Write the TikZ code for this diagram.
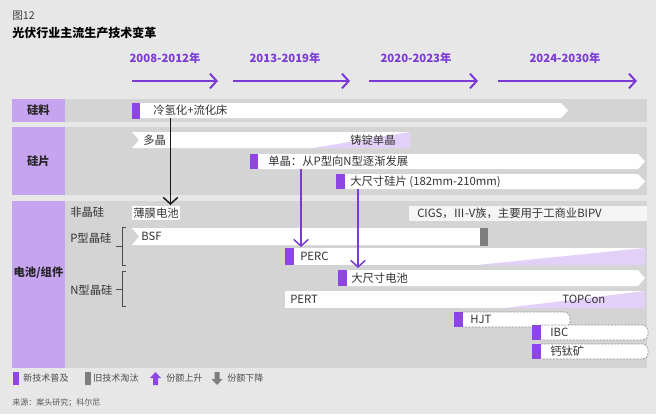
\documentclass[tikz,border=0pt]{standalone}
\usepackage{fontspec}
\setmainfont{Noto Sans CJK SC}
\usetikzlibrary{arrows.meta}
\definecolor{cpanel}{HTML}{E7E7E7}
\definecolor{cband}{HTML}{D4D4D4}
\definecolor{clab}{HTML}{C7A4EF}
\definecolor{cmark}{HTML}{8D45E4}
\definecolor{ctl}{HTML}{7B3AD6}
\definecolor{cwedge}{HTML}{E3D0F8}
\definecolor{coldg}{HTML}{7E7E7E}
\definecolor{ctxt}{HTML}{333333}
\begin{document}
\begin{tikzpicture}[x=0.75pt,y=-0.75pt,
  bartext/.style={font=\fontsize{8.5}{10}\selectfont, text=ctxt, inner sep=0pt, anchor=west},
  rowlab/.style={font=\fontsize{8.5}{10}\selectfont\bfseries, text=black!85, inner sep=0pt},
  sublab/.style={font=\fontsize{8.5}{10}\selectfont, text=ctxt, inner sep=0pt, anchor=west},
  yr/.style={font=\fontsize{8.5}{10}\selectfont\bfseries, text=ctl, inner sep=0pt},
  legtext/.style={font=\fontsize{6.8}{8}\selectfont, text=black!70, inner sep=0pt, anchor=west},
  tlarrow/.style={draw=ctl, line width=1.5pt, -{Straight Barb[length=5pt,width=11pt]}},
  blkarrow/.style={draw=black!90, line width=1.1pt, -{Straight Barb[length=5pt,width=11pt]}},
  purarrow/.style={draw=ctl, line width=1.1pt, -{Straight Barb[length=5pt,width=11pt]}},
  newmark/.style={fill=cmark},
  oldmark/.style={fill=coldg},
  barfill/.style={fill=white},
  wedgefill/.style={fill=cwedge},
  dashbar/.style={fill=white, draw=black!45, line width=0.5pt, dash pattern=on 1.5pt off 1pt, rounded corners=4pt},
  brk/.style={draw=black!70, line width=0.6pt}
]
\useasboundingbox (0,0) rectangle (658,418);
\fill[white] (0,0) rectangle (658,418);
\fill[cpanel] (0,0) rectangle (656,414);

% title
\node[font=\fontsize{8}{9}\selectfont, text=black!75, inner sep=0pt, anchor=west] (fig) at (12,16) {图12};
\node[font=\fontsize{9}{10}\selectfont\bfseries, text=black, inner sep=0pt, anchor=west] (title) at (12,33) {光伏行业主流生产技术变革};

% timeline
\node[yr] (y1) at (165,58) {2008-2012年};
\node[yr] (y2) at (285,58) {2013-2019年};
\node[yr] (y3) at (416,58) {2020-2023年};
\node[yr] (y4) at (565,58) {2024-2030年};
\coordinate (t1a) at (132,81); \coordinate (t1b) at (218,81);
\coordinate (t2a) at (233,81); \coordinate (t2b) at (350,81);
\coordinate (t3a) at (369,81); \coordinate (t3b) at (478,81);
\coordinate (t4a) at (498,81); \coordinate (t4b) at (637,81);
\draw[tlarrow] (t1a) -- (t1b);
\draw[tlarrow] (t2a) -- (t2b);
\draw[tlarrow] (t3a) -- (t3b);
\draw[tlarrow] (t4a) -- (t4b);

% bands
\fill[cband] (12,99) rectangle (647,122);
\fill[clab] (12,99) rectangle (65,122);
\fill[cband] (12,127) rectangle (647,195);
\fill[clab] (12,127) rectangle (65,195);
\fill[cband] (12,201) rectangle (647,368);
\fill[clab] (12,201) rectangle (65,368);
\node[rowlab] (r1) at (38.5,110.5) {硅料};
\node[rowlab] (r2) at (38.5,161) {硅片};
\node[rowlab] (r3) at (38.5,273) {电池/组件};

% 硅料
\fill[barfill] (140,103) -- (561,103) -- (568,110.5) -- (561,118) -- (140,118) -- cycle;
\fill[newmark] (132,103) rectangle (140,118.5);
\node[bartext] (lqh) at (153,110.5) {冷氢化+流化床};

% 硅片
\fill[barfill] (132,132) -- (410,132) -- (410,148) -- (132,148) -- (139,140) -- cycle;
\fill[wedgefill] (313,148) -- (410,132) -- (410,148) -- cycle;
\node[bartext] (dj) at (143,140) {多晶};
\node[bartext] (zd) at (350,140) {铸锭单晶};

\fill[barfill] (258,154) -- (638,154) -- (645,161.5) -- (638,169) -- (258,169) -- cycle;
\fill[newmark] (250,154) rectangle (258,169);
\node[bartext] (dan) at (268,161.5) {单晶：从P型向N型逐渐发展};

\fill[barfill] (345,174) -- (638,174) -- (645,181.5) -- (638,189) -- (345,189) -- cycle;
\fill[newmark] (336,174) rectangle (345,189);
\node[bartext] (dcg) at (350,181.5) {大尺寸硅片 (182mm-210mm)};

% 电池/组件 sub labels
\node[sublab] (s1) at (70,212.5) {非晶硅};
\node[sublab] (s2) at (70,238) {P型晶硅};
\node[sublab] (s3) at (70,290) {N型晶硅};
\draw[brk] (126,227) -- (122,227) -- (122,265) -- (126,265);
\draw[brk] (116,246) -- (122,246);
\draw[brk] (126,271) -- (122,271) -- (122,306) -- (126,306);
\draw[brk] (116,289) -- (122,289);

% 薄膜电池
\fill[barfill] (132,206) rectangle (180,220);
\node[bartext, anchor=center] (bm) at (156,213) {薄膜电池};

% CIGS
\fill[white!60!cpanel] (409,206) rectangle (647,221);
\node[bartext] (cigs) at (417,213.5) {CIGS，Ⅲ-V族，主要用于工商业BIPV};

% BSF
\fill[barfill] (132,228) -- (480,228) -- (480,245) -- (132,245) -- (139,236.5) -- cycle;
\fill[oldmark] (480,228) rectangle (488,246);
\node[bartext] (bsf) at (141,236.5) {BSF};

% PERC
\fill[barfill] (294,248) rectangle (645,265);
\fill[wedgefill] (477,265) -- (645,248) -- (645,265) -- cycle;
\fill[newmark] (285,248) rectangle (294,265);
\node[bartext] (perc) at (300,256.5) {PERC};

% 大尺寸电池
\fill[barfill] (347,270) -- (638,270) -- (645,278) -- (638,286) -- (347,286) -- cycle;
\fill[newmark] (338,270) rectangle (347,286);
\node[bartext] (dcd) at (351,278) {大尺寸电池};

% PERT / TOPCon
\fill[barfill] (285,291) rectangle (645,308);
\fill[wedgefill] (505,308) -- (645,291) -- (645,308) -- cycle;
\node[bartext] (pert) at (290,299.5) {PERT};
\node[bartext] (topcon) at (562,299.5) {TOPCon};

% HJT, IBC, 钙钛矿
\path[dashbar] (463,312) -- (570,312) -- (570,327) -- (463,327);
\fill[newmark] (454,312) rectangle (463,327);
\node[bartext] (hjt) at (470,319.5) {HJT};
\path[dashbar] (541,325) -- (648,325) -- (648,340) -- (541,340);
\fill[newmark] (532,325) rectangle (541,340);
\node[bartext] (ibc) at (550,332.5) {IBC};
\path[dashbar] (541,344) -- (648,344) -- (648,359) -- (541,359);
\fill[newmark] (532,344) rectangle (541,359);
\node[bartext] (gtk) at (550,351.5) {钙钛矿};

% connectors
\coordinate (a1s) at (170.5,118); \coordinate (a1e) at (170.5,205);
\draw[blkarrow] (a1s) -- (a1e);
\coordinate (a2s) at (301,169); \coordinate (a2e) at (301,247);
\draw[purarrow] (a2s) -- (a2e);
\coordinate (a3s) at (358,189); \coordinate (a3e) at (358,268);
\draw[purarrow] (a3s) -- (a3e);

% legend
\fill[newmark] (13,371.5) rectangle (18.5,385);
\node[legtext] (lg1) at (23,378.5) {新技术普及};
\fill[oldmark] (85,371.5) rectangle (90.5,385);
\node[legtext] (lg2) at (93,378.5) {旧技术淘汰};
\fill[cmark] (155.5,372) -- (161,378) -- (158,378) -- (158,385) -- (153,385) -- (153,378) -- (150,378) -- cycle;
\node[legtext] (lg3) at (166,378.5) {份额上升};
\fill[coldg] (217,385) -- (222.5,379) -- (219.5,379) -- (219.5,372) -- (214.5,372) -- (214.5,379) -- (211.5,379) -- cycle;
\node[legtext] (lg4) at (227,378.5) {份额下降};

\node[font=\fontsize{6}{7}\selectfont, text=black!65, inner sep=0pt, anchor=west] (src) at (12,403) {来源：案头研究；科尔尼};
\end{tikzpicture}
\end{document}
